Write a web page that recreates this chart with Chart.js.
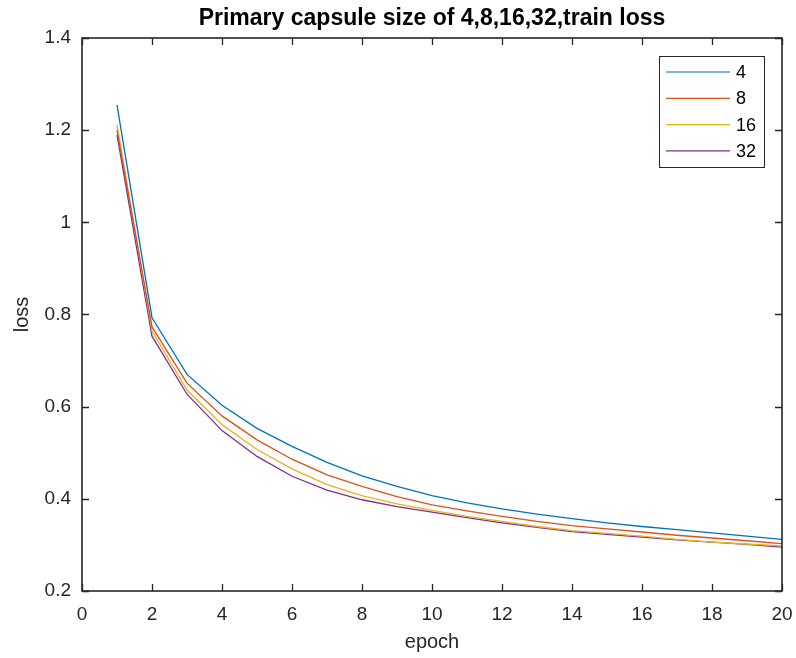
<!DOCTYPE html>
<html>
<head>
<meta charset="utf-8">
<script src="https://cdn.jsdelivr.net/npm/chart.js@4"></script>
<style>
  html, body { margin: 0; padding: 0; background: #fff; }
  #wrap { width: 796px; height: 658px; }
</style>
</head>
<body>
<div id="wrap"><canvas id="lossCanvas" width="796" height="658"></canvas></div>
<script>
const epochs = [1, 2, 3, 4, 5, 6, 7, 8, 9, 10, 11, 12, 13, 14, 15, 16, 17, 18, 19, 20];
const loss4 = [1.255, 0.793, 0.670, 0.603, 0.553, 0.514, 0.479, 0.450, 0.427, 0.407, 0.391, 0.378, 0.367, 0.357, 0.348, 0.340, 0.333, 0.326, 0.319, 0.312];
const loss8 = [1.200, 0.773, 0.651, 0.580, 0.528, 0.486, 0.452, 0.427, 0.405, 0.387, 0.374, 0.362, 0.351, 0.342, 0.335, 0.328, 0.321, 0.315, 0.309, 0.303];
const loss16 = [1.212, 0.764, 0.636, 0.561, 0.507, 0.465, 0.431, 0.407, 0.389, 0.375, 0.362, 0.351, 0.340, 0.331, 0.325, 0.319, 0.312, 0.306, 0.302, 0.298];
const loss32 = [1.190, 0.753, 0.627, 0.548, 0.492, 0.449, 0.419, 0.398, 0.383, 0.371, 0.359, 0.348, 0.338, 0.329, 0.323, 0.317, 0.311, 0.306, 0.301, 0.295];
const seriesNames = ["4", "8", "16", "32"];
const xTicks = [0, 2, 4, 6, 8, 10, 12, 14, 16, 18, 20];
const yTicks = [0.2, 0.4, 0.6, 0.8, 1.0, 1.2, 1.4];

const colors = ["#0072BD", "#D95319", "#EDB120", "#7E2F8E"];
const axisColor = "#262626";
const fontFamily = "'Liberation Sans', Arial, Helvetica, sans-serif";

function pts(ys) {
  return ys.map((y, i) => ({ x: epochs[i], y: y }));
}

// box around the axes, inward tick marks on all four sides, and the legend
const matlabAxes = {
  id: "matlabAxes",
  afterDatasetsDraw(chart) {
    const ctx = chart.ctx;
    const a = chart.chartArea;
    const xs = chart.scales.x;
    const ys = chart.scales.y;
    const tl = 7;
    ctx.save();
    ctx.strokeStyle = axisColor;
    ctx.lineWidth = 1.6;
    ctx.strokeRect(a.left, a.top, a.right - a.left, a.bottom - a.top);
    ctx.lineWidth = 1.3;
    ctx.beginPath();
    xTicks.forEach(v => {
      const px = Math.round(xs.getPixelForValue(v)) + 0.5;
      ctx.moveTo(px, a.bottom); ctx.lineTo(px, a.bottom - tl);
      ctx.moveTo(px, a.top); ctx.lineTo(px, a.top + tl);
    });
    yTicks.forEach(v => {
      const py = Math.round(ys.getPixelForValue(v)) + 0.5;
      ctx.moveTo(a.left, py); ctx.lineTo(a.left + tl, py);
      ctx.moveTo(a.right, py); ctx.lineTo(a.right - tl, py);
    });
    ctx.stroke();

    // legend
    const lx = 659, ly = 56, lw = 105, lh = 111;
    ctx.fillStyle = "#fff";
    ctx.fillRect(lx, ly, lw, lh);
    ctx.strokeStyle = axisColor;
    ctx.lineWidth = 1;
    ctx.strokeRect(lx + 0.5, ly + 0.5, lw, lh);
    ctx.font = "18px " + fontFamily;
    ctx.textBaseline = "middle";
    ctx.textAlign = "left";
    chart.data.datasets.forEach((ds, i) => {
      const y = ly + 16 + i * 26.3;
      ctx.strokeStyle = ds.borderColor;
      ctx.lineWidth = 1.2;
      ctx.beginPath();
      ctx.moveTo(lx + 7, y); ctx.lineTo(lx + 71, y);
      ctx.stroke();
      ctx.fillStyle = "#000";
      ctx.fillText(ds.label, lx + 77, y + 1);
    });
    ctx.restore();
  }
};

new Chart(document.getElementById("lossCanvas"), {
  type: "line",
  data: {
    datasets: [loss4, loss8, loss16, loss32].map((s, i) => ({
      label: seriesNames[i],
      data: pts(s),
      borderColor: colors[i],
      backgroundColor: colors[i],
      borderWidth: 1.3,
      pointRadius: 0,
      tension: 0,
      fill: false
    }))
  },
  options: {
    responsive: false,
    animation: false,
    layout: { padding: { left: 0, right: 0, top: 0, bottom: 0 } },
    plugins: {
      legend: { display: false },
      tooltip: { enabled: false },
      title: {
        display: true,
        text: "Primary capsule size of 4,8,16,32,train loss",
        color: "#000",
        fullSize: false,
        font: { family: fontFamily, size: 23, weight: "bold", lineHeight: 1.2 },
        padding: { top: 5, bottom: 5.4 }
      }
    },
    scales: {
      x: {
        type: "linear",
        min: 0,
        max: 20,
        afterBuildTicks: s => { s.ticks = xTicks.map(v => ({ value: v })); },
        afterFit: s => { s.height = 67; s.paddingRight = 14; },
        grid: { display: false, drawTicks: false },
        border: { display: false },
        ticks: {
          color: axisColor,
          font: { family: fontFamily, size: 19 },
          padding: 12,
          maxRotation: 0
        },
        title: {
          display: true,
          text: "epoch",
          color: axisColor,
          font: { family: fontFamily, size: 20 },
          padding: { top: 0, bottom: 4 }
        }
      },
      y: {
        type: "linear",
        min: 0.2,
        max: 1.4,
        afterBuildTicks: s => { s.ticks = yTicks.map(v => ({ value: v })); },
        afterFit: s => { s.width = 82; },
        grid: { display: false, drawTicks: false },
        border: { display: false },
        ticks: {
          color: axisColor,
          font: { family: fontFamily, size: 19 },
          padding: 11,
          callback: v => (Math.round(v * 10) / 10).toString()
        },
        title: {
          display: true,
          text: "loss",
          color: axisColor,
          font: { family: fontFamily, size: 20 },
          padding: { top: 10, bottom: 0 }
        }
      }
    }
  },
  plugins: [matlabAxes]
});
</script>
</body>
</html>
